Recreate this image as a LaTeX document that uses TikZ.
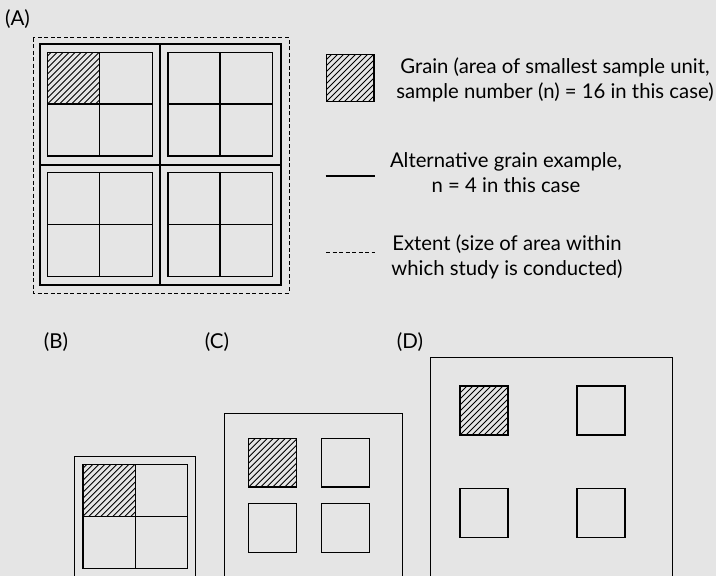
\documentclass[tikz,border=0pt]{standalone}
\usepackage{fontspec}
\setmainfont{Lato}
\definecolor{bggrey}{RGB}{229,229,229}
\tikzset{
  thickline/.style={line width=2pt, black},
  thinbox/.style={line width=1.3pt, black},
  hatchline/.style={line width=0.9pt, black},
  extentline/.style={line width=0.9pt, black, dash pattern=on 4pt off 2.5pt},
  lbl/.style={font=\fontsize{20.5}{25}\selectfont, inner sep=0pt},
  legtext/.style={font=\fontsize{20.3}{25}\selectfont, align=center, inner sep=0pt}
}
\newcommand{\hatchbox}[4]{%
  \begin{scope}
    \clip (#1,#2) rectangle (#3,#4);
    \foreach \k in {0,6,...,132} \draw[hatchline] ({#1-66+\k},#4) -- ++(66,-66);
  \end{scope}
  \draw[thinbox] (#1,#2) rectangle (#3,#4);}
\begin{document}
\begin{tikzpicture}[x=1pt,y=-1pt]
\fill[bggrey] (0,0) rectangle (716,576);
\useasboundingbox (0,0) rectangle (716,576);
\clip (0,0) rectangle (716,576);
% labels
\node[lbl] (la) at (17.5,19) {(A)};
\node[lbl] (lb) at (56,342) {(B)};
\node[lbl] (lc) at (217,342) {(C)};
\node[lbl] (ld) at (410,342) {(D)};
% panel A
\draw[extentline] (33,37.7) rectangle (289,293);
\hatchbox{47.7}{52.3}{99.7}{103.7}
\foreach \xa/\ya in {47.7/52.3,168/52.3,47.7/172.7,168/172.7}{
  \draw[thinbox] (\xa,\ya) rectangle ++(104.5,103.6);
  \draw[thinbox] ({\xa+52},\ya) -- ++(0,103.6);
  \draw[thinbox] (\xa,{\ya+51.6}) -- ++(104.5,0);
}
\draw[thickline] (39.5,44) rectangle (280.5,285.3);
\draw[thickline] (160,44) -- (160,285.3);
\draw[thickline] (39.5,164.6) -- (280.5,164.6);
% legend
\hatchbox{326.3}{54.7}{374}{101.7}
\node[legtext] (t1) at (555,80.3) {Grain (area of smallest sample unit,\\sample number (n) = 16 in this case)};
\draw[thickline] (325.7,175.7) -- (374.7,175.7);
\node[legtext] (t2) at (506,173) {Alternative grain example,\\n = 4 in this case};
\draw[extentline] (326,252.3) -- (375,252.3);
\node[legtext] (t3) at (507,257.2) {Extent (size of area within\\which study is conducted)};
% panel B
\draw[thinbox] (74.7,456.7) rectangle (195.7,600);
\hatchbox{83}{464.7}{135.3}{516.3}
\draw[thinbox] (83,464.7) rectangle (187.3,568.3);
\draw[thinbox] (135.3,464.7) -- (135.3,568.3);
\draw[thinbox] (83,516.3) -- (187.3,516.3);
% panel C
\draw[thinbox] (224.3,413.7) rectangle (402.3,600);
\hatchbox{248.7}{438.3}{296.7}{487}
\draw[thinbox] (321.3,438.3) rectangle (369.7,487);
\draw[thinbox] (248.7,503.7) rectangle (296.7,552.3);
\draw[thinbox] (321.3,503.7) rectangle (369.7,552.3);
% panel D
\draw[thinbox] (430.7,357.7) rectangle (672.7,600);
\hatchbox{460}{386}{508}{435}
\draw[thinbox] (577,386) rectangle (625,435);
\draw[thinbox] (460,488.7) rectangle (508,537.3);
\draw[thinbox] (577,488.7) rectangle (625,537.3);
\end{tikzpicture}
\end{document}
